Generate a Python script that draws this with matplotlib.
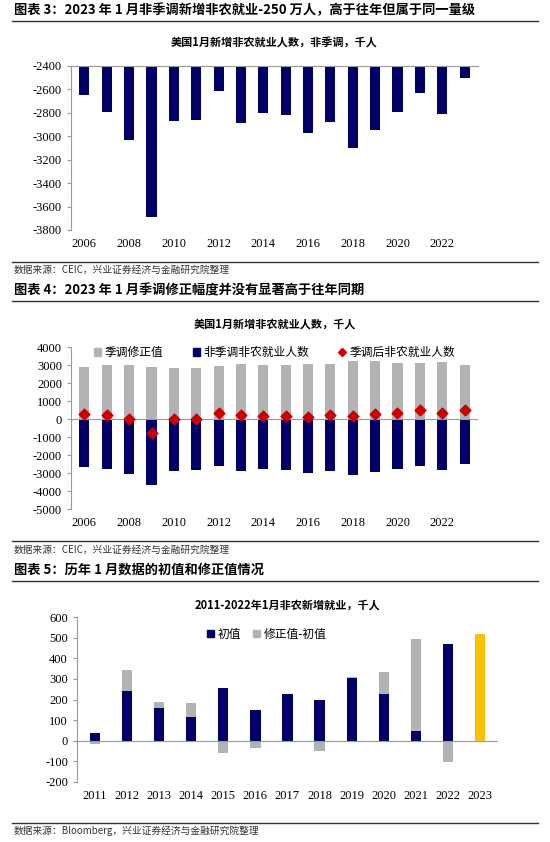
import matplotlib
matplotlib.use("Agg")
import matplotlib.pyplot as plt
from matplotlib.lines import Line2D
from matplotlib.patches import Patch

plt.rcParams['font.family'] = ['Noto Sans CJK SC', 'DejaVu Sans']
plt.rcParams['axes.unicode_minus'] = False

years = list(range(2006, 2024))
nsa = [-2650, -2790, -3030, -3690, -2870, -2860, -2610, -2885, -2805, -2815,
       -2975, -2880, -3100, -2950, -2790, -2630, -2810, -2505]
adj = [2900, 2990, 3000, 2900, 2850, 2850, 2930, 3050, 2980, 2990,
       3060, 3080, 3220, 3240, 3100, 3110, 3150, 3010]
sa = [270, 230, -10, -780, -20, -20, 340, 200, 170, 180,
      110, 240, 140, 300, 320, 500, 350, 520]

years3 = list(range(2011, 2024))
initial = [36, 243, 157, 113, 257, 151, 227, 200, 304, 225, 49, 467, 517]
revision = [-15, 102, 33, 70, -60, -37, 0, -50, 6, 110, 445, -103, 0]

NAVY = '#000066'
GRAY = '#b3b3b3'
RED = '#cc0000'
ORANGE = '#ffc000'

fig = plt.figure(figsize=(5.5, 8.42), dpi=100)
W, H = 550, 842

def ax_at(x0, y0, x1, y1):
    return fig.add_axes([x0 / W, 1 - y1 / H, (x1 - x0) / W, (y1 - y0) / H])

def hline(y):
    fig.add_artist(Line2D([12 / W, 538 / W], [1 - y / H] * 2, color='#333333', lw=1))

def style(ax):
    for s in ['top', 'right']:
        ax.spines[s].set_visible(False)
    ax.spines['left'].set_color('#999999')
    ax.spines['bottom'].set_color('#999999')
    ax.tick_params(labelsize=9, length=3, color='#999999')
    for lab in ax.get_xticklabels() + ax.get_yticklabels():
        lab.set_family(['Liberation Serif', 'DejaVu Serif'])

fig.text(14 / W, 1 - 10 / H, '图表 3：2023 年 1 月非季调新增非农就业-250 万人，高于往年但属于同一量级',
         fontsize=9.5, fontweight='bold', va='center')
hline(21)
fig.text(14 / W, 1 - 270 / H, '数据来源：CEIC，兴业证券经济与金融研究院整理', fontsize=7, va='center', color='#333333')
hline(262)
fig.text(14 / W, 1 - 290 / H, '图表 4：2023 年 1 月季调修正幅度并没有显著高于往年同期',
         fontsize=9.5, fontweight='bold', va='center')
hline(301)
fig.text(14 / W, 1 - 550 / H, '数据来源：CEIC，兴业证券经济与金融研究院整理', fontsize=7, va='center', color='#333333')
hline(541)
fig.text(14 / W, 1 - 570 / H, '图表 5：历年 1 月数据的初值和修正值情况',
         fontsize=9.5, fontweight='bold', va='center')
hline(581)
fig.text(14 / W, 1 - 831 / H, '数据来源：Bloomberg，兴业证券经济与金融研究院整理', fontsize=7, va='center', color='#333333')
hline(823)

# panel 1
ax1 = ax_at(71, 66, 478, 230)
ax1.bar(years, nsa, width=0.45, color=NAVY)
ax1.set_ylim(-3800, -2400)
ax1.set_xlim(2005.4, 2023.6)
ax1.set_yticks(range(-3800, -2399, 200))
ax1.set_xticks(range(2006, 2023, 2))
style(ax1)
ax1.spines['bottom'].set_visible(False)
ax1.spines['top'].set_visible(True)
ax1.spines['top'].set_color('#999999')
ax1.tick_params(axis='x', length=0, pad=6)
ax1.set_title('美国1月新增非农就业人数，非季调，千人', fontsize=8, fontweight='bold', pad=14)

# panel 2
ax2 = ax_at(71, 347, 478, 509)
ax2.bar(years, adj, width=0.45, color=GRAY)
ax2.bar(years, nsa, width=0.45, color=NAVY)
ax2.scatter(years, sa, marker='D', s=30, color=RED, zorder=3)
ax2.axhline(0, color='#999999', lw=0.8)
ax2.set_ylim(-5000, 4000)
ax2.set_xlim(2005.4, 2023.6)
ax2.set_yticks(range(-5000, 4001, 1000))
ax2.set_xticks(range(2006, 2023, 2))
style(ax2)
ax2.spines['bottom'].set_visible(False)
ax2.tick_params(axis='x', length=0, pad=6)
ax2.set_title('美国1月新增非农就业人数，千人', fontsize=8, fontweight='bold', pad=14)
h2 = [Patch(color=GRAY, label='季调修正值'),
      Patch(color=NAVY, label='非季调非农就业人数'),
      Line2D([], [], marker='D', color=RED, ls='none', markersize=4, label='季调后非农就业人数')]
ax2.legend(handles=h2, loc='upper center', ncol=3, frameon=False, fontsize=8.5,
           bbox_to_anchor=(0.5, 1.07), handlelength=0.6, handleheight=0.6,
           handletextpad=0.3, columnspacing=2.5)

# panel 3
ax3 = ax_at(77, 617, 498, 782)
pos_rev = [r if r > 0 else 0 for r in revision]
neg_rev = [r if r < 0 else 0 for r in revision]
colors = [NAVY] * (len(years3) - 1) + [ORANGE]
ax3.bar(years3, initial, width=0.32, color=colors)
ax3.bar(years3, pos_rev, bottom=initial, width=0.32, color=GRAY)
ax3.bar(years3, neg_rev, width=0.32, color=GRAY)
ax3.axhline(0, color='#999999', lw=0.8)
ax3.set_ylim(-200, 600)
ax3.set_xlim(2010.45, 2023.55)
ax3.set_yticks(range(-200, 601, 100))
ax3.set_xticks(years3)
style(ax3)
ax3.spines['bottom'].set_visible(False)
ax3.tick_params(axis='x', length=0, pad=6)
ax3.set_title('2011-2022年1月非农新增就业，千人', fontsize=8, fontweight='bold', pad=6)
ax3.legend(handles=[Patch(color=NAVY, label='初值'), Patch(color=GRAY, label='修正值-初值')],
           loc='upper center', ncol=2, frameon=False, fontsize=8.5, bbox_to_anchor=(0.45, 1.0),
           handlelength=0.6, handleheight=0.6, handletextpad=0.3, columnspacing=1.0)

fig.savefig('out.png', dpi=100)
